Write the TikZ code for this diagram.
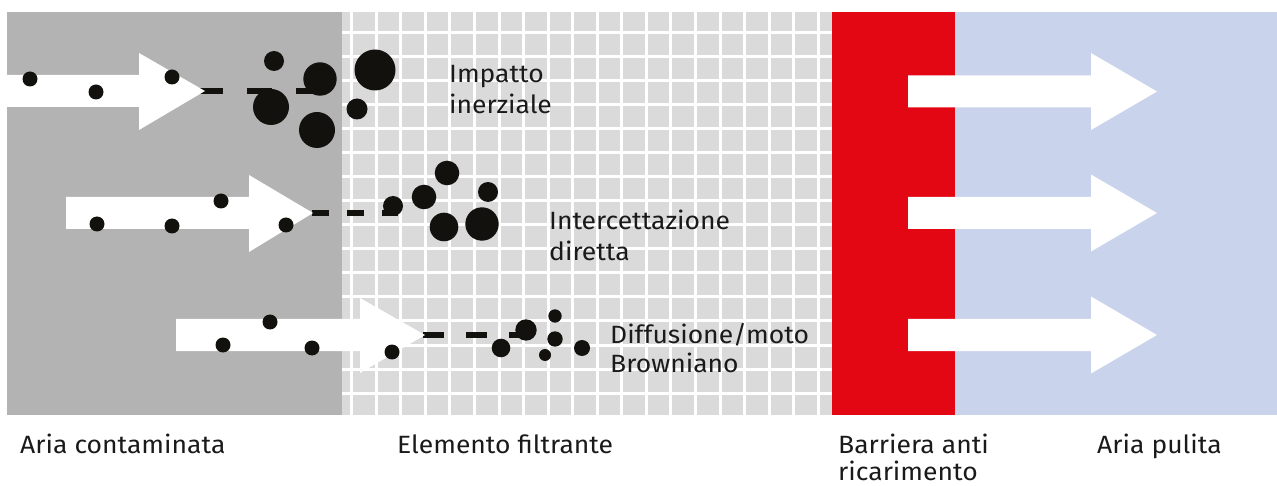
\documentclass[tikz,border=0pt]{standalone}
\usepackage{fontspec}
\setmainfont[FakeStretch=1.06]{Fira Sans}
\definecolor{panelgray}{HTML}{B3B3B3}
\definecolor{gridgray}{HTML}{DADADA}
\definecolor{barred}{HTML}{E30613}
\definecolor{cleanblue}{HTML}{C9D3EC}
\definecolor{ink}{HTML}{12110D}
\definecolor{txt}{HTML}{1A1A1A}
\tikzset{
  particle/.style={fill=ink},
  flowarrow/.style={fill=white},
  trail/.style={draw=ink,line width=5.5pt},
  lbl/.style={anchor=base west,inner sep=0pt,text=txt,font=\fontsize{25}{30}\selectfont},
}
\begin{document}
\begin{tikzpicture}[x=1pt,y=-1pt]
\useasboundingbox (0,0) rectangle (1277,486);
% panels
\fill[panelgray] (7,12) rectangle (342,415);
\fill[gridgray] (342,12) rectangle (832,415);
\foreach \k in {0,...,19} {
  \fill[white] ({351.7+24.56*\k-1.5},12) rectangle ({351.7+24.56*\k+1.5},415);
}
\foreach \k in {0,...,15} {
  \fill[white] (342,{33+24*\k-1.5}) rectangle (832,{33+24*\k+1.5});
}
\fill[barred] (832,12) rectangle (955,415);
\fill[cleanblue] (955,12) rectangle (1277,415);

% dashed trails
\draw[trail,dash pattern=on 25pt off 24pt] (198,91) -- (321,91);
\draw[trail,dash pattern=on 17pt off 18pt] (312,213) -- (398,213);
\draw[trail,dash pattern=on 21pt off 22pt] (423,335) -- (528,335);

% left arrows
\fill[flowarrow] (7,75) -- (139,75) -- (139,53) -- (205,91) -- (139,130) -- (139,107) -- (7,107) -- cycle;
\fill[flowarrow] (66,197) -- (249,197) -- (249,175) -- (313,213) -- (249,252) -- (249,229) -- (66,229) -- cycle;
\fill[flowarrow] (176,319) -- (360,319) -- (360,298) -- (425,335) -- (360,373) -- (360,351) -- (176,351) -- cycle;

% right arrows
\foreach \c in {91.5,213,335} {
  \fill[flowarrow] (908,{\c-16}) -- (1091,{\c-16}) -- (1091,{\c-38.5}) -- (1157,\c) -- (1091,{\c+38.5}) -- (1091,{\c+16}) -- (908,{\c+16}) -- cycle;
}

% particles row 1
\fill[particle] (30,79) circle (7.5pt);
\fill[particle] (96,92) circle (7.5pt);
\fill[particle] (172,77) circle (7.5pt);
\fill[particle] (274,61) circle (10pt);
\fill[particle] (320,79) circle (16.7pt);
\fill[particle] (271,107) circle (18pt);
\fill[particle] (317,130) circle (18pt);
\fill[particle] (375,70) circle (20.5pt);
\fill[particle] (357,109) circle (10.5pt);
% particles row 2
\fill[particle] (97,224) circle (7.5pt);
\fill[particle] (172,226) circle (7.5pt);
\fill[particle] (221,201) circle (7.5pt);
\fill[particle] (286,225) circle (7.5pt);
\fill[particle] (393,206) circle (10pt);
\fill[particle] (424,197) circle (12.3pt);
\fill[particle] (447,173) circle (12.3pt);
\fill[particle] (488,192) circle (10pt);
\fill[particle] (444,227) circle (14.3pt);
\fill[particle] (482,224) circle (16.7pt);
% particles row 3
\fill[particle] (223,345) circle (7.5pt);
\fill[particle] (270,322) circle (7.5pt);
\fill[particle] (312,348) circle (7.5pt);
\fill[particle] (392,352) circle (7.5pt);
\fill[particle] (501,348) circle (9.3pt);
\fill[particle] (526,330) circle (10.7pt);
\fill[particle] (555,316) circle (6.7pt);
\fill[particle] (555,339) circle (7.7pt);
\fill[particle] (545,355) circle (6pt);
\fill[particle] (582,348) circle (8pt);

% mechanism labels
\node[lbl] (imp1) at (449,83) {Impatto};
\node[lbl] (imp2) at (449,114) {inerziale};
\node[lbl] (int1) at (549,230) {Intercettazione};
\node[lbl] (int2) at (549,261) {diretta};
\node[lbl] (dif1) at (610,343) {Diffusione/moto};
\node[lbl] (dif2) at (610,372) {Browniano};

% bottom labels
\node[lbl] (aria1) at (20,453) {Aria contaminata};
\node[lbl] (elem) at (397,453) {Elemento filtrante};
\node[lbl] (barr1) at (838,453) {Barriera anti};
\node[lbl] (barr2) at (838,480) {ricarimento};
\node[lbl] (aria2) at (1097,453) {Aria pulita};
\end{tikzpicture}
\end{document}
